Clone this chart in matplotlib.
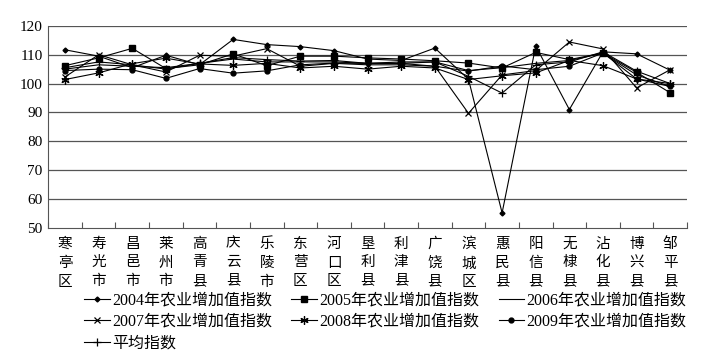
import numpy as np
import matplotlib
matplotlib.use('Agg')
import matplotlib.pyplot as plt

plt.rcParams['font.family'] = ['Liberation Serif', 'Noto Sans CJK SC']

counties = ['寒亭区', '寿光市', '昌邑市', '莱州市', '高青县', '庆云县', '乐陵市', '东营区', '河口区', '垦利县',
            '利津县', '广饶县', '滨城区', '惠民县', '阳信县', '无棣县', '沾化县', '博兴县', '邹平县']

idx_2004 = [111.7, 109.5, 105.5, 109.8, 106.5, 115.3, 113.5, 112.8, 111.4, 108.5,
            108.0, 112.3, 101.5, 55.2, 113.0, 91.0, 111.0, 110.3, 104.6]
idx_2005 = [106.2, 108.9, 112.2, 105.2, 106.5, 110.3, 106.2, 109.5, 109.5, 108.9,
            108.5, 107.9, 107.1, 105.4, 110.8, 108.3, 110.6, 103.9, 96.8]
idx_2006 = [105.0, 106.5, 106.0, 105.5, 107.0, 108.5, 107.5, 107.5, 107.5, 107.0,
            107.0, 107.5, 104.5, 105.5, 107.0, 108.0, 110.5, 103.0, 99.0]
idx_2007 = [102.3, 110.0, 106.5, 104.0, 109.8, 109.5, 112.1, 106.0, 107.0, 106.5,
            106.5, 106.0, 89.7, 103.0, 104.5, 114.4, 112.0, 98.5, 104.8]
idx_2008 = [101.4, 103.7, 106.9, 108.8, 106.8, 106.3, 107.0, 105.4, 106.0, 105.0,
            106.0, 105.4, 101.4, 102.7, 103.7, 108.0, 106.2, 101.6, 100.0]
idx_2009 = [104.5, 105.0, 104.8, 101.8, 105.2, 103.6, 104.4, 106.5, 107.1, 107.0,
            107.0, 106.0, 104.3, 106.1, 104.8, 106.0, 110.6, 101.6, 99.0]
idx_avg = [105.5, 107.5, 106.5, 105.0, 107.0, 109.0, 108.3, 107.8, 108.0, 107.0,
           107.5, 107.5, 102.5, 96.7, 106.5, 107.5, 111.0, 104.3, 100.0]

x = np.arange(len(counties))

fig = plt.figure(figsize=(7.09, 3.64), dpi=100)
ax = fig.add_axes([0.068, 0.374, 0.901, 0.555])

lw = 0.8
h04, = ax.plot(x, idx_2004, color='black', lw=lw, marker='D', ms=2.5, label='2004年农业增加值指数')
h05, = ax.plot(x, idx_2005, color='black', lw=lw, marker='s', ms=4, label='2005年农业增加值指数')
h06, = ax.plot(x, idx_2006, color='black', lw=lw, label='2006年农业增加值指数')
h07, = ax.plot(x, idx_2007, color='black', lw=lw, marker='x', ms=5, mew=0.9, label='2007年农业增加值指数')
h08, = ax.plot(x, idx_2008, color='black', lw=lw, marker=(6, 2, 0), ms=6, mew=0.9, label='2008年农业增加值指数')
h09, = ax.plot(x, idx_2009, color='black', lw=lw, marker='o', ms=3.5, label='2009年农业增加值指数')
hav, = ax.plot(x, idx_avg, color='black', lw=lw, marker='+', ms=6, mew=0.9, label='平均指数')

ax.set_xlim(-0.5, len(counties) - 0.5)
ax.set_ylim(50, 120)
ax.set_yticks(np.arange(50, 121, 10))
for v in range(60, 121, 10):
    ax.axhline(v, color='#555555', lw=0.9, zorder=0)

ax.spines['top'].set_visible(False)
ax.spines['right'].set_visible(False)
ax.spines['left'].set_color('#555555')
ax.spines['bottom'].set_color('#555555')

ax.set_xticks(np.arange(-0.5, len(counties), 1.0))
ax.set_xticklabels([])
ax.tick_params(axis='x', direction='in', length=4, color='#555555')
ax.set_xticks(x, minor=True)
ax.set_xticklabels(['\n'.join(c) for c in counties], minor=True, fontsize=10.5, linespacing=1.55)
ax.tick_params(axis='x', which='minor', length=0, pad=7)
ax.tick_params(axis='y', length=0, labelsize=11, pad=4)

handles = [h04, h07, hav, h05, h08, h06, h09]
fig.legend(handles=handles, loc='upper left', bbox_to_anchor=(0.11, 0.215), ncol=3,
           frameon=False, fontsize=11.5, handlelength=1.6, handletextpad=0.15,
           columnspacing=1.2, labelspacing=0.35, borderaxespad=0)

fig.savefig('out.png', dpi=100)
